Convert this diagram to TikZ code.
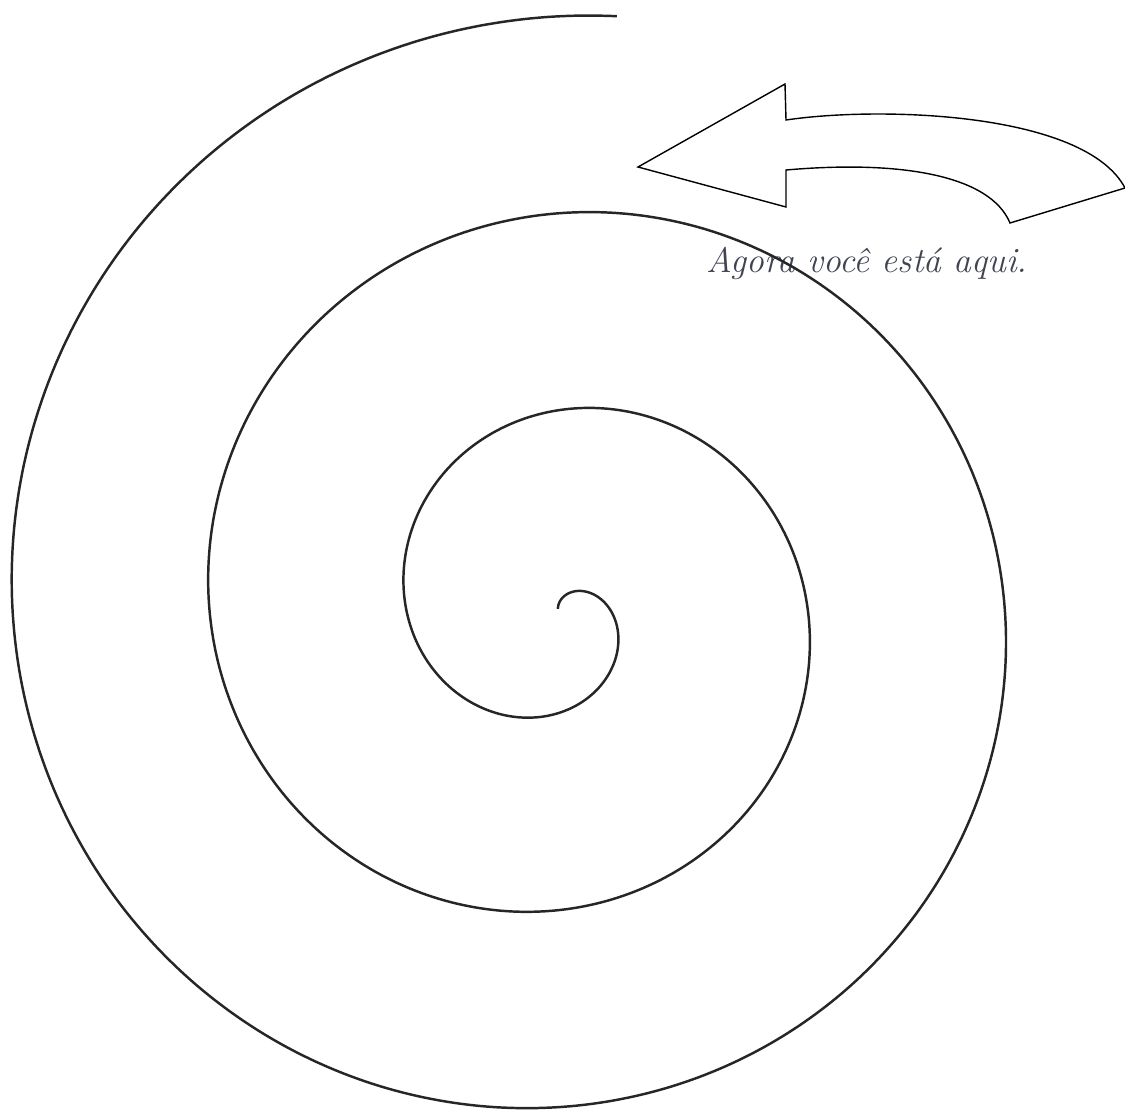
\documentclass[tikz,border=0pt]{standalone}
\usepackage{fontspec}
\usepackage{tikz}
\usetikzlibrary{positioning}
\definecolor{textgray}{RGB}{64,68,82}

\begin{document}
\begin{tikzpicture}[x=0.02cm, y=-0.02cm]
    \useasboundingbox (0,0) rectangle (1125,1111);

    % Label
    \node[font=\itshape\fontsize{20.2}{24}\selectfont, text=textgray] (here) at (867,263) {Agora você está aqui.};

    % Spiral
    \draw[black!85, line width=1.4pt] plot[smooth, samples=500, domain=0.07:19.07, variable=\t]
        ({558 + 31.35*\t*cos(deg(\t - 1.69))}, {611 + 31.35*\t*sin(deg(\t - 1.69))});

    % Curved arrow
    \draw[line width=0.8pt, line join=miter] (638,167) -- (785,84) -- (786,120)
        .. controls (880,106) and (1085,112) .. (1125,188)
        -- (1010,223)
        .. controls (990,175) and (900,160) .. (786,170)
        -- (786,207) -- cycle;
\end{tikzpicture}
\end{document}
